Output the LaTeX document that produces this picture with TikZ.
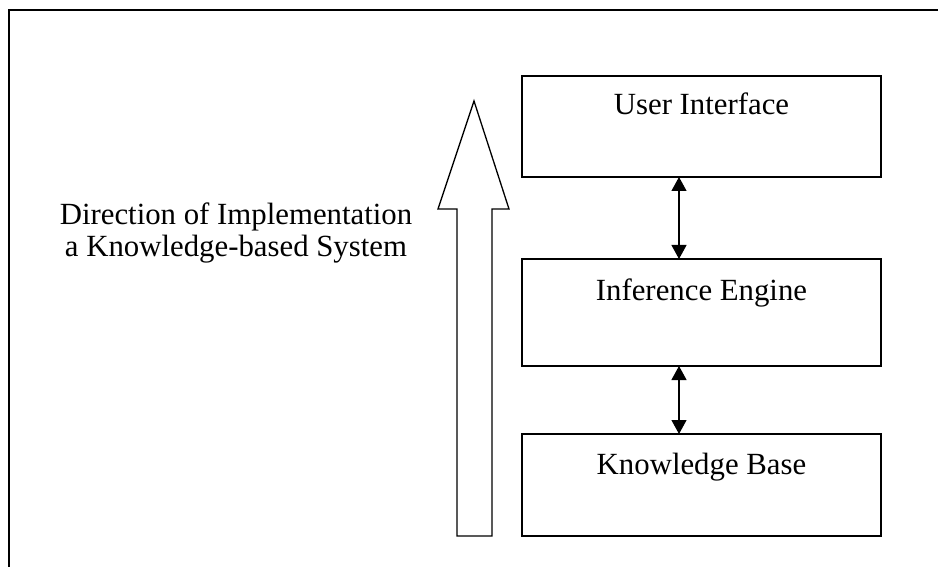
\documentclass[tikz,border=0pt]{standalone}
\usepackage{fontspec}
\setmainfont{Liberation Serif}
\usetikzlibrary{arrows.meta}
\begin{document}
\begin{tikzpicture}[x=1pt,y=-1pt,
  box/.style={draw,line width=1.3pt,minimum width=359pt,inner sep=0pt,outer sep=0pt},
  lbl/.style={anchor=base,inner sep=0pt,font=\fontsize{30.8}{32}\selectfont},
  dbl/.style={line width=1.2pt,{Triangle[length=14pt,width=15pt]}-{Triangle[length=14pt,width=15pt]}}]
\useasboundingbox (0,0) rectangle (938,567);
\begin{scope}
\clip (0,0) rectangle (938,567);
\draw[line width=1.5pt] (9,600) -- (9,10) -- (960,10);
\end{scope}
% boxes
\node[box,minimum height=101pt] (ui) at (701.5,126.5) {};
\node[box,minimum height=107pt] (ie) at (701.5,312.5) {};
\node[box,minimum height=102pt] (kb) at (701.5,485) {};
\node[lbl] (tui) at ([yshift=-39pt]ui.north) {User Interface};
\node[lbl] (tie) at ([yshift=-41pt]ie.north) {Inference Engine};
\node[lbl] (tkb) at ([yshift=-40pt]kb.north) {Knowledge Base};
% connectors
\coordinate (a1) at (679,177);
\coordinate (a2) at (679,259);
\coordinate (a3) at (679,366);
\coordinate (a4) at (679,434);
\draw[dbl] (a1) -- (a2);
\draw[dbl] (a3) -- (a4);
% big arrow
\draw[line width=1.3pt,line join=miter] (474,101) -- (509,209) -- (492,209) -- (492,536) -- (457,536) -- (457,209) -- (438,209) -- cycle;
% left text
\node[lbl,align=center] (dir) at (236,256) {Direction of Implementation\\a Knowledge-based System};
\end{tikzpicture}
\end{document}
